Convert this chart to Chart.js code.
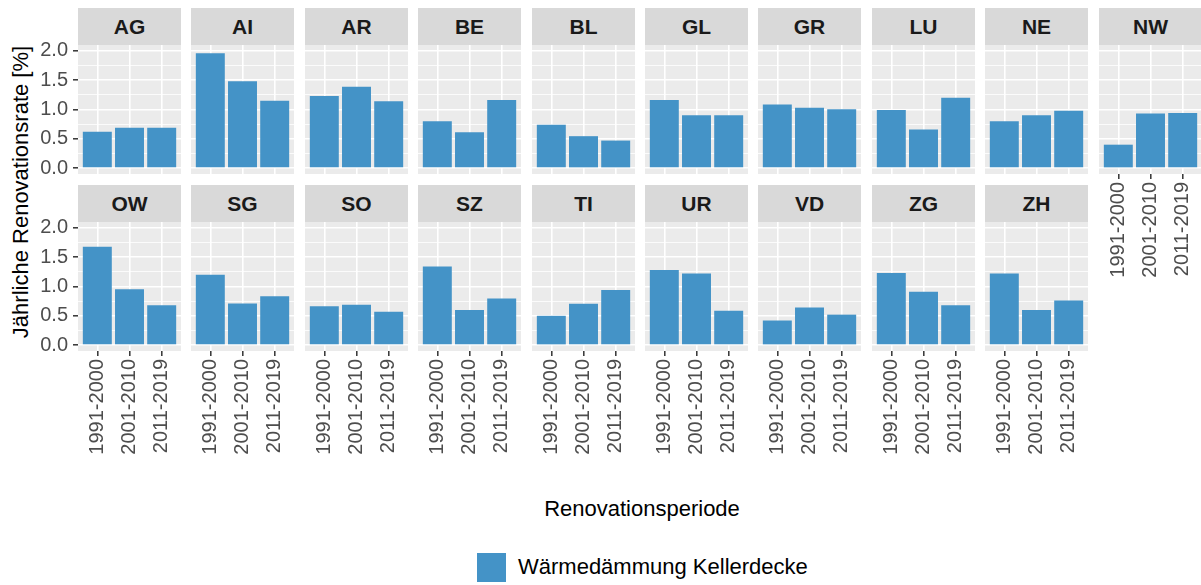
<!DOCTYPE html>
<html>
<head>
<meta charset="utf-8">
<script src="https://cdn.jsdelivr.net/npm/chart.js"></script>
<style>
body{margin:0;background:#fff;width:1201px;height:585px;position:relative;overflow:hidden;font-family:"Liberation Sans",Arial,sans-serif}
canvas{position:absolute}
.strip{position:absolute;width:103px;height:37px;background:#d9d9d9;color:#1a1a1a;font-weight:bold;font-size:21px;text-align:center;line-height:37px}
.lab{position:absolute;font-size:22px;line-height:22px;color:#000;white-space:nowrap}
</style>
</head>
<body>
<div class="lab" id="ytitle" style="left:20.5px;top:191.5px;transform:translate(-50%,-50%) rotate(-90deg)">Jährliche Renovationsrate [%]</div>
<div class="lab" style="left:642px;top:498px;transform:translateX(-50%)">Renovationsperiode</div>
<div style="position:absolute;left:477px;top:553px;width:29px;height:29px;background:#4493c7"></div>
<div class="lab" style="left:518px;top:556px">Wärmedämmung Kellerdecke</div>
<script>

let cantons=["AG","AI","AR","BE","BL","GL","GR","LU","NE","NW","OW","SG","SO","SZ","TI","UR","VD","ZG","ZH"];
let periods=["1991-2000","2001-2010","2011-2019"];
let rate1991=[0.62,1.96,1.23,0.80,0.74,1.16,1.085,0.99,0.80,0.40,1.68,1.20,0.665,1.34,0.50,1.28,0.42,1.23,1.22];
let rate2001=[0.69,1.48,1.39,0.61,0.545,0.90,1.03,0.66,0.90,0.93,0.955,0.71,0.69,0.60,0.705,1.22,0.64,0.91,0.60];
let rate2011=[0.69,1.15,1.14,1.16,0.47,0.90,1.005,1.20,0.98,0.94,0.68,0.835,0.57,0.795,0.94,0.585,0.52,0.68,0.76];
let yTicks=[0,0.5,1,1.5,2];
let yGrid=[0,0.25,0.5,0.75,1,1.25,1.5,1.75,2];

let blue="#4493c7";
let font={family:"'Liberation Sans', Arial, sans-serif",size:20};

let panelBg={
id:"panelBg",
beforeDraw(chart){
let a=chart.chartArea;
let ctx=chart.ctx;
ctx.save();
ctx.fillStyle="#ebebeb";
ctx.fillRect(a.left,a.top,a.right-a.left,a.bottom-a.top);
ctx.restore();
}
};

function isMajor(c){
return c.tick && yTicks.includes(c.tick.value);
}

function makePanel(i){

let row=i<10?0:1;
let col=i<10?i:i-10;
let leftCol=col===0;
let hasLab=row===1 || i===9;

let px=Math.round(78+col*113.4);
let stripTop=row===0?8:185;

let strip=document.createElement("div");
strip.className="strip";
strip.style.left=px+"px";
strip.style.top=stripTop+"px";
strip.innerText=cantons[i];

let cv=document.createElement("canvas");
let left=leftCol?0:px;
let w=leftCol?px+103:103;
let h=37+129+(hasLab?110:0);
cv.width=w;
cv.height=h;
cv.style.left=left+"px";
cv.style.top=stripTop+"px";
document.body.appendChild(cv);
document.body.appendChild(strip);

let vals=[rate1991[i],rate2001[i],rate2011[i]];

new Chart(cv,{
type:"bar",
data:{
datasets:[{
label:"Wärmedämmung Kellerdecke",
data:vals.map((v,k)=>({x:k+1,y:v})),
backgroundColor:blue,
borderWidth:0,
barPercentage:0.9,
categoryPercentage:1
}]
},
options:{
responsive:false,
animation:false,
layout:{padding:{top:37,left:0,right:0,bottom:0}},
plugins:{legend:{display:false},tooltip:{enabled:false}},
scales:{
x:{
type:"linear",
offset:false,
min:0.4,
max:3.6,
afterBuildTicks(s){s.ticks=[1,2,3].map(v=>({value:v}));},
afterFit(s){s.height=hasLab?110:0;s.paddingLeft=0;s.paddingRight=0;},
ticks:{display:hasLab,autoSkip:false,minRotation:90,maxRotation:90,color:"#4d4d4d",font:font,padding:3,
callback:(v)=>periods[v-1]},
grid:{offset:false,color:"#fff",lineWidth:1.6,drawTicks:hasLab,tickLength:5,tickWidth:1.5,tickColor:"#333"},
border:{display:false}
},
y:{
type:"linear",
min:-0.1,
max:2.1,
afterBuildTicks(s){s.ticks=yGrid.map(v=>({value:v}));},
afterFit(s){s.width=leftCol?78:0;s.paddingTop=0;s.paddingBottom=0;},
ticks:{display:leftCol,autoSkip:false,color:"#4d4d4d",font:font,padding:5,
callback:(v)=>yTicks.includes(v)?v.toFixed(1):""},
grid:{color:"#fff",lineWidth:(c)=>isMajor(c)?1.6:0.8,drawTicks:leftCol,tickLength:5,tickWidth:1.5,
tickColor:(c)=>isMajor(c)?"#333":"rgba(0,0,0,0)"},
border:{display:false}
}
}
},
plugins:[panelBg]
});

}

for(let i=0;i<cantons.length;i++){
makePanel(i);
}

</script>
</body>
</html>
